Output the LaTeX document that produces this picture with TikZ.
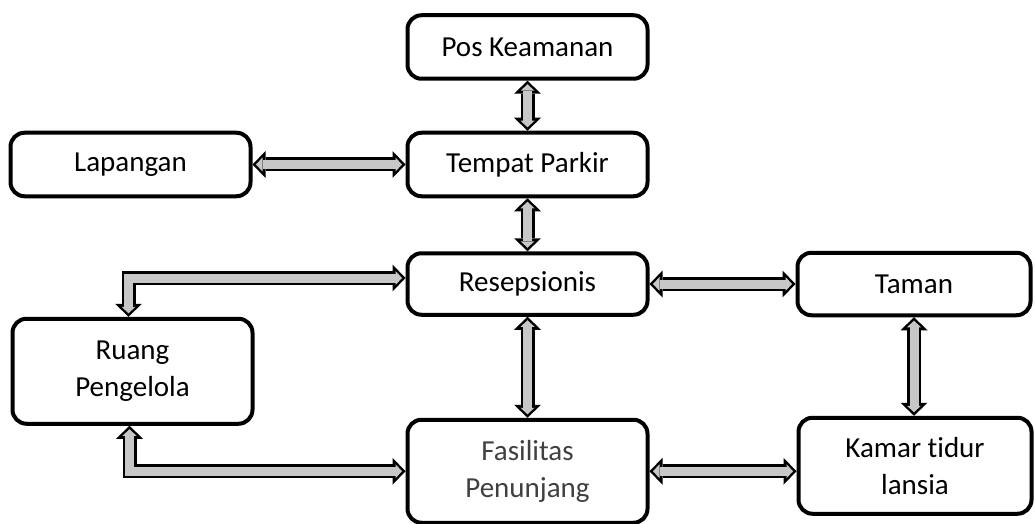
\documentclass[tikz,border=0pt]{standalone}
\usepackage{fontspec}
\setmainfont{Carlito}[Ligatures=NoCommon]
\usepackage{tikz}
\usetikzlibrary{arrows.meta, positioning}

\begin{document}
\begin{tikzpicture}[
    x=1pt, y=1pt,
    roombox/.style={rectangle, draw=black, line width=4pt, rounded corners=14pt, fill=white, minimum width=240pt, minimum height=63.5pt, align=center, font=\fontsize{29}{37}\selectfont},
    outerarrow/.style={line width=14pt, black, {Triangle[length=13pt, width=27pt, line width=0pt]}-{Triangle[length=13pt, width=27pt, line width=0pt]}},
    innerarrow/.style={line width=9pt, black!22, shorten <=3.5pt, shorten >=3.5pt, {Triangle[length=6.5pt, width=14pt, line width=0pt]}-{Triangle[length=6.5pt, width=14pt, line width=0pt]}},
]
    \useasboundingbox (0,0) rectangle (1035,523);

    \node[roombox] (pos) at (527.5,476) {Pos Keamanan};
    \node[roombox, below=50pt of pos] (parkir) {Tempat Parkir};
    \node[roombox, left=153pt of parkir] (lapangan) {Lapangan};
    \node[roombox, below=53pt of parkir, minimum height=61.5pt] (resep) {Resepsionis};
    \node[roombox, right=146pt of resep, minimum width=233pt, minimum height=62.5pt] (taman) {Taman};
    \node[roombox, left=151pt of resep.south west, anchor=north east, minimum height=105pt] (ruang) {Ruang\\Pengelola};
    \node[roombox, below=101pt of resep, minimum height=103pt, text=black!75] (fasilitas) {Fasilitas\\Penunjang};
    \node[roombox, right=147pt of fasilitas.north east, anchor=north west, yshift=2pt, minimum width=233pt, minimum height=96pt] (kamar) {Kamar tidur\\lansia};

    \draw[outerarrow] (pos) -- (parkir);
    \draw[innerarrow] (pos) -- (parkir);
    \draw[outerarrow] (lapangan) -- (parkir);
    \draw[innerarrow] (lapangan) -- (parkir);
    \draw[outerarrow] (parkir) -- (resep);
    \draw[innerarrow] (parkir) -- (resep);
    \draw[outerarrow] (resep) -- (taman);
    \draw[innerarrow] (resep) -- (taman);
    \draw[outerarrow] (resep) -- (fasilitas);
    \draw[innerarrow] (resep) -- (fasilitas);
    \draw[outerarrow] (taman.south) -- (taman.south |- kamar.north);
    \draw[innerarrow] (taman.south) -- (taman.south |- kamar.north);
    \draw[outerarrow] (fasilitas.east) -- (fasilitas.east -| kamar.west);
    \draw[innerarrow] (fasilitas.east) -- (fasilitas.east -| kamar.west);

    % bent connectors on the left
    \draw[outerarrow] ([xshift=-4pt]ruang.north) |- ([yshift=6pt]resep.west);
    \draw[innerarrow] ([xshift=-4pt]ruang.north) |- ([yshift=6pt]resep.west);
    \draw[outerarrow] ([xshift=-3pt]ruang.south) |- (fasilitas.west);
    \draw[innerarrow] ([xshift=-3pt]ruang.south) |- (fasilitas.west);
\end{tikzpicture}
\end{document}
